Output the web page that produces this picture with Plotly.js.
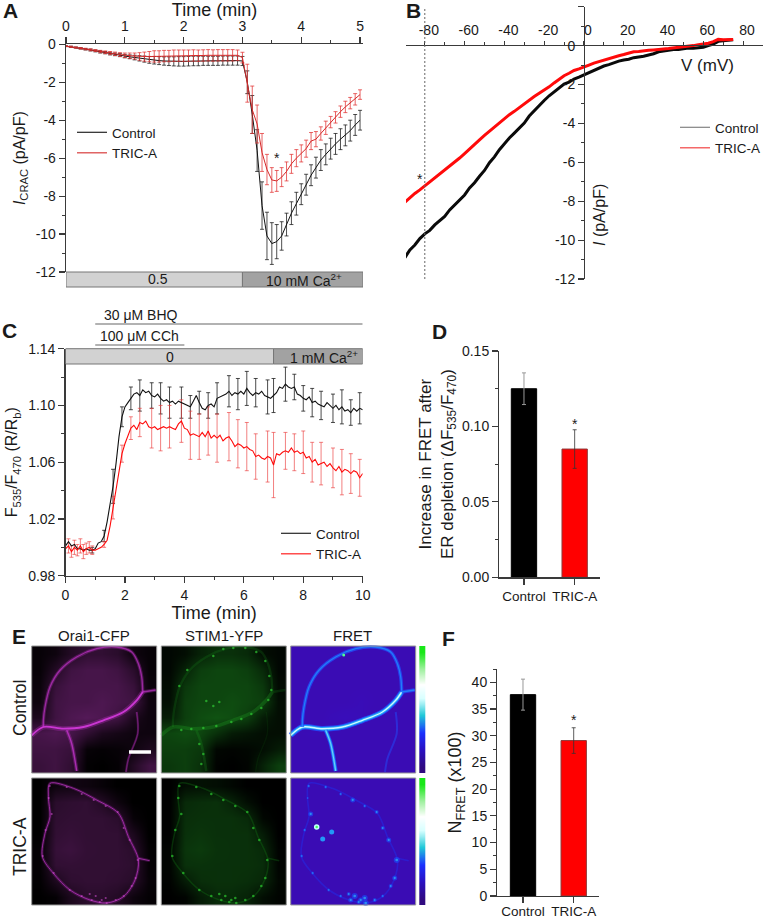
<!DOCTYPE html>
<html><head><meta charset="utf-8">
<script src="https://cdn.plot.ly/plotly-3.0.0.min.js"></script>
<style>html,body{margin:0;padding:0;background:#fff}#chart{width:763px;height:918px}</style>
</head><body><div id="chart"></div>
<script>
// ---------- Panel A data ----------
const aTime=[0,.083,.167,.25,.333,.417,.5,.583,.667,.75,.833,.917,1,1.083,1.167,1.25,1.333,1.417,1.5,1.583,1.667,1.75,1.833,1.917,2,2.083,2.167,2.25,2.333,2.417,2.5,2.583,2.667,2.75,2.833,2.917,3,3.083,3.167,3.25,3.333,3.417,3.5,3.583,3.667,3.75,3.833,3.917,4,4.083,4.167,4.25,4.333,4.417,4.5,4.583,4.667,4.75,4.833,4.917,5];
const aControl=[-.10,-.13,-.17,-.21,-.26,-.30,-.35,-.40,-.44,-.49,-.53,-.57,-.62,-.66,-.70,-.74,-.78,-.82,-.84,-.86,-.88,-.89,-.90,-.90,-.90,-.89,-.88,-.88,-.87,-.87,-.87,-.87,-.86,-.86,-.86,-.86,-.88,-2.0,-3.7,-5.6,-8.5,-10.1,-10.5,-10.4,-10.1,-9.5,-8.9,-8.4,-7.9,-7.4,-6.9,-6.5,-6.1,-5.8,-5.5,-5.25,-5.0,-4.8,-4.55,-4.25,-4.0];
const aControlErr=[.02,.03,.03,.04,.04,.05,.05,.06,.06,.07,.07,.08,.09,.1,.12,.14,.16,.18,.2,.21,.22,.23,.24,.25,.25,.25,.25,.25,.24,.24,.24,.24,.24,.24,.24,.24,.24,.6,1.0,1.1,1.25,1.25,1.1,.9,.75,.6,.6,.6,.55,.55,.55,.55,.55,.55,.55,.55,.55,.55,.55,.55,.52];
const aTric=[-.10,-.13,-.17,-.21,-.25,-.29,-.33,-.38,-.42,-.46,-.50,-.54,-.58,-.60,-.62,-.64,-.65,-.65,-.64,-.64,-.62,-.62,-.60,-.60,-.60,-.60,-.59,-.60,-.59,-.58,-.59,-.58,-.58,-.58,-.58,-.58,-.70,-2.05,-3.45,-4.2,-5.7,-6.6,-7.15,-7.2,-7.0,-6.7,-6.3,-6.0,-5.75,-5.5,-5.1,-5.0,-4.7,-4.4,-4.1,-3.85,-3.55,-3.3,-3.1,-2.9,-2.65];
const aTricErr=[.02,.03,.03,.04,.04,.05,.05,.06,.07,.08,.09,.1,.12,.14,.16,.2,.24,.27,.3,.3,.3,.3,.3,.3,.3,.3,.3,.3,.3,.3,.3,.3,.3,.3,.3,.28,.28,1.0,1.25,1.0,1.0,.8,.65,.55,.5,.5,.5,.45,.45,.45,.45,.4,.35,.35,.3,.3,.3,.3,.3,.3,.25];
const aXTicks=[0,1,2,3,4,5], aXLabels=['0','1','2','3','4','5'];
const aYTicks=[0,-2,-4,-6,-8,-10,-12], aYLabels=['0','-2','-4','-6','-8','-10','-12'];
// ---------- Panel B data ----------
const bVolt=[-90,-87.5,-85,-82.5,-80,-77.5,-75,-72.5,-70,-67.5,-65,-62.5,-60,-57.5,-55,-52.5,-50,-47.5,-45,-42.5,-40,-37.5,-35,-32.5,-30,-27.5,-25,-22.5,-20,-17.5,-15,-12.5,-10,-7.5,-5,-2.5,0,2.5,5,7.5,10,12.5,15,17.5,20,22.5,25,27.5,30,32.5,35,37.5,40,42.5,45,47.5,50,52.5,55,57.5,60,62.5,65,67.5,70,72.5,75];
const bControl=[-10.9,-10.5,-10.25,-9.92,-9.68,-9.5,-9.22,-9.02,-8.78,-8.45,-8.2,-7.98,-7.68,-7.32,-7.05,-6.72,-6.42,-6.02,-5.72,-5.35,-5.02,-4.75,-4.5,-4.22,-3.98,-3.62,-3.35,-3.05,-2.82,-2.58,-2.38,-2.15,-1.98,-1.88,-1.72,-1.62,-1.5,-1.38,-1.25,-1.15,-1.05,-.98,-.88,-.8,-.74,-.7,-.62,-.6,-.55,-.48,-.42,-.32,-.28,-.24,-.2,-.2,-.17,-.12,-.14,-.1,-.08,0,.08,.22,.25,.28,.3];
const bTric=[-8.05,-7.82,-7.6,-7.42,-7.22,-6.98,-6.8,-6.6,-6.4,-6.2,-5.98,-5.78,-5.55,-5.3,-5.08,-4.85,-4.62,-4.4,-4.2,-3.98,-3.76,-3.55,-3.38,-3.18,-3.0,-2.8,-2.62,-2.45,-2.3,-2.12,-1.92,-1.72,-1.55,-1.42,-1.28,-1.2,-1.08,-1,-.9,-.82,-.73,-.66,-.58,-.52,-.46,-.4,-.32,-.3,-.26,-.24,-.22,-.18,-.17,-.15,-.12,-.1,-.08,-.02,0,.05,.08,.12,.2,.32,.3,.32,.32];
const bXTicks=[-80,-60,-40,-20,0,20,40,60,80], bXLabels=['-80','-60','-40','-20','0','20','40','60','80'];
const bYTicks=[2,0,-2,-4,-6,-8,-10,-12], bYLabels=['2','0','-2','-4','-6','-8','-10','-12'];
// ---------- Panel C data ----------
const cTime=[0,.1,.2,.3,.4,.5,.6,.7,.8,.9,1,1.1,1.2,1.3,1.4,1.5,1.6,1.7,1.8,1.9,2,2.1,2.2,2.3,2.4,2.5,2.6,2.7,2.8,2.9,3,3.1,3.2,3.3,3.4,3.5,3.6,3.7,3.8,3.9,4,4.1,4.2,4.3,4.4,4.5,4.6,4.7,4.8,4.9,5,5.1,5.2,5.3,5.4,5.5,5.6,5.7,5.8,5.9,6,6.1,6.2,6.3,6.4,6.5,6.6,6.7,6.8,6.9,7,7.1,7.2,7.3,7.4,7.5,7.6,7.7,7.8,7.9,8,8.1,8.2,8.3,8.4,8.5,8.6,8.7,8.8,8.9,9,9.1,9.2,9.3,9.4,9.5,9.6,9.7,9.8,9.9,10];
const cControl=[1.001,1.004,1.001,1.002,.999,.999,.998,.999,.998,.998,.999,1.003,1.004,1.008,1.018,1.03,1.043,1.059,1.078,1.092,1.099,1.102,1.105,1.108,1.109,1.107,1.111,1.109,1.110,1.107,1.106,1.108,1.105,1.103,1.104,1.102,1.103,1.101,1.103,1.102,1.101,1.100,1.099,1.103,1.107,1.102,1.098,1.097,1.100,1.101,1.099,1.105,1.106,1.107,1.108,1.110,1.107,1.109,1.108,1.110,1.108,1.112,1.109,1.107,1.109,1.108,1.110,1.107,1.106,1.105,1.107,1.109,1.113,1.112,1.115,1.113,1.112,1.113,1.108,1.107,1.105,1.104,1.106,1.102,1.103,1.101,1.100,1.099,1.102,1.100,1.098,1.100,1.097,1.099,1.096,1.097,1.095,1.098,1.096,1.098,1.097];
const cTric=[.999,1.001,.997,1.000,.998,1.001,.997,.999,1.000,.998,.998,.999,1.000,1.002,1.005,1.015,1.028,1.04,1.055,1.066,1.073,1.078,1.084,1.086,1.083,1.088,1.087,1.089,1.085,1.084,1.085,1.083,1.084,1.085,1.084,1.085,1.084,1.083,1.087,1.089,1.084,1.083,1.079,1.080,1.079,1.078,1.081,1.078,1.082,1.077,1.079,1.077,1.079,1.075,1.077,1.078,1.075,1.071,1.073,1.072,1.070,1.071,1.069,1.068,1.064,1.065,1.063,1.062,1.064,1.063,1.058,1.066,1.065,1.067,1.068,1.067,1.070,1.067,1.068,1.066,1.067,1.063,1.064,1.060,1.062,1.058,1.059,1.060,1.057,1.059,1.056,1.054,1.057,1.053,1.055,1.054,1.052,1.054,1.053,1.049,1.052];
const cControlErrT=[.9,1.3,1.6,1.9,2.2,2.5,2.9,3.2,3.5,3.9,4.2,4.5,4.8,5.1,5.5,5.8,6.1,6.4,6.8,7,7.4,7.7,8,8.3,8.6,9,9.3,9.6,9.9];
const cControlErr=[.002,.004,.012,.007,.008,.011,.009,.011,.011,.011,.008,.008,.009,.011,.011,.011,.012,.010,.012,.012,.012,.009,.009,.010,.010,.010,.012,.009,.011];
const cTricErrT=[.1,.2,.3,.4,.5,.6,.7,.8,.9,1.3,1.6,1.9,2.2,2.5,2.9,3.2,3.5,3.9,4.2,4.5,4.8,5.1,5.5,5.8,6.1,6.4,6.8,7,7.4,7.7,8,8.3,8.6,9,9.3,9.6,9.9];
const cTricErr=[.005,.004,.005,.004,.005,.005,.004,.004,.003,.002,.008,.006,.008,.010,.014,.016,.015,.015,.017,.016,.017,.017,.017,.017,.017,.016,.018,.023,.013,.013,.015,.014,.015,.014,.016,.014,.013];
const cXTicks=[0,2,4,6,8,10], cXLabels=['0','2','4','6','8','10'];
const cYTicks=[.98,1.02,1.06,1.10,1.14], cYLabels=['0.98','1.02','1.06','1.10','1.14'];
// ---------- Bars D / F ----------
const groups=['Control','TRIC-A'];
const dValues=[.125,.085], dErr=[.0105,.0128];
const dYTicks=[0,.05,.10,.15], dYLabels=['0.00','0.05','0.10','0.15'];
const fValues=[37.7,29.1], fErr=[2.9,2.4];
const fYTicks=[0,5,10,15,20,25,30,35,40], fYLabels=['0','5','10','15','20','25','30','35','40'];
// ---------- Panel E traced outlines (px inside a micrograph) ----------
const r1BottomX=[0,11.7,31.7,51.7,71.7,91.7,105,111], r1BottomY=[89.3,81,82.7,81,74.3,66,54.3,46];
const r1ArcX=[111,110,106.7,100,85,65,45,28.3,18.3,13.3,11.7,11.7], r1ArcY=[46,31,17.7,6,1,2.7,11,24.3,41,61,74.3,81];
const r1DownX=[35,40,45], r1DownY=[84.3,97.7,125];
const r1RightX=[111,124], r1RightY=[46,44];
const r1LowerX=[105,106,96.7,94.3], r1LowerY=[66,87.7,112.7,126];
const r1SpotX=[52,62,72,84,95,104,108,110,107,100,90,80,70,55,42,30,20,38,42,40,18,26,52,45,58], r1SpotY=[10,3,2,2,6,15,30,44,54,62,68,73,76,80,82,83,84,98,108,118,40,24,60,55,56];
const r2CellX=[18.3,16.7,18.3,13.3,10.7,21.7,38.3,58.3,75,91.7,103.3,106.7,96.7,86.7,65,41.7,18.3], r2CellY=[5.3,18.7,38.7,55.3,78.7,95.3,112,122,125,118.7,102,82,58.7,35.3,22,10.3,5.3];
const r2RightX=[106.7,118], r2RightY=[80.3,82.7];
const r2SpotX=[18,17,20,14,11,22,38,50,60,68,75,84,92,100,104,106,98,92,86,74,62,50,35,64,70,74,58], r2SpotY=[8,20,36,52,78,95,112,118,122,124,125,122,118,108,100,82,62,50,34,28,22,16,9,118,122,120,116];
const r2SpotSize=[3,2,5,3,3,3,3,3,5,4,6,4,3,4,5,6,5,4,4,3,5,3,3,6,5,6,4];
const r2InnerX=[41,32], r2InnerY=[54,61];
const r1Backdrop=[[.05,.1,.25,.35,.35,.3,.1,.05],[.05,.25,.45,.5,.5,.45,.3,.05],[.08,.4,.5,.5,.5,.5,.4,.08],[.1,.45,.5,.5,.55,.5,.45,.1],[.2,.45,.55,.6,.55,.45,.2,.1],[.5,.55,.5,.35,.2,.15,.1,.1],[.45,.45,.4,.05,.03,.05,.1,.2],[.4,.45,.35,.02,0,.03,.25,.45]];
const r2Backdrop=[[0,.1,.12,.1,.05,0,0,0],[0,.3,.33,.35,.25,.1,0,0],[0,.33,.35,.35,.35,.3,.05,0],[0,.35,.38,.35,.35,.35,.2,0],[.03,.38,.42,.36,.35,.35,.3,.02],[.03,.35,.36,.35,.35,.35,.32,.03],[.02,.2,.33,.35,.35,.33,.28,.05],[0,.03,.2,.3,.3,.25,.1,.03]];
const scaleLevels=[[1,1],[.9,.9],[.8,.8],[.7,.7],[.6,.6],[.5,.5],[.4,.4],[.3,.3],[.2,.2],[.1,.1],[0,0]];
const columnTitles=['Orai1-CFP','STIM1-YFP','FRET'], rowTitles=['Control','TRIC-A'];

// ---------- helpers ----------
const W=763,H=918, FONT='"Liberation Sans", Arial, sans-serif', AX='#3a3a3a';
const xd=(a,b)=>[a/W,b/W], yd=(t,b)=>[1-b/H,1-t/H];
const axis=(o,minor)=>Object.assign({showgrid:false,zeroline:false,showline:true,linecolor:AX,linewidth:1.3,ticks:'outside',ticklen:6,tickwidth:1.2,tickcolor:AX,tickfont:{family:FONT,size:14,color:'#1a1a1a'},tickmode:'array',fixedrange:true,
  minor:minor?{tickmode:'linear',tick0:0,dtick:minor,ticks:'outside',ticklen:3,tickwidth:1,tickcolor:AX,showgrid:false}:undefined},o);
const ttl=(text,size,standoff)=>({text,font:{family:FONT,size:size||16,color:'#1a1a1a'},standoff});
const note=(x,y,text,size,extra)=>Object.assign({xref:'paper',yref:'paper',x:x/W,y:1-y/H,text,showarrow:false,xanchor:'center',yanchor:'middle',font:{family:FONT,size:size||14,color:'#1a1a1a'}},extra||{});
const band=(xref,x0,x1,top,bot,fill)=>({type:'rect',xref,yref:'paper',x0,x1,y0:1-bot/H,y1:1-top/H,fillcolor:fill,line:{color:'#777',width:1},layer:'above'});
const hline=(xref,x0,x1,y)=>({type:'line',xref,yref:'paper',x0,x1,y0:1-y/H,y1:1-y/H,line:{color:'#666',width:1.2}});

const BLACK='#111',RED='#d42a2a',PURE='#ff0a0a';
const traces=[];
function err(arr,color,thick,width){return {type:'data',array:arr,visible:true,color,thickness:thick||1,width:width===undefined?2:width};}
// A
traces.push({x:aTime,y:aControl,xaxis:'x',yaxis:'y',mode:'lines',line:{color:BLACK,width:1},error_y:err(aControlErr,'rgba(20,20,20,.75)'),showlegend:false,hoverinfo:'skip',cliponaxis:false});
traces.push({x:aTime,y:aTric,xaxis:'x',yaxis:'y',mode:'lines',line:{color:RED,width:1},error_y:err(aTricErr,'rgba(225,50,50,.75)'),showlegend:false,hoverinfo:'skip',cliponaxis:false});
const legendDummy=(name,color,legend,xa,ya)=>({x:[null],y:[null],xaxis:xa,yaxis:ya,mode:'lines',name,line:{color,width:1.1},legend,showlegend:true});
traces.push(legendDummy('Control',BLACK,'legend','x','y'),legendDummy('TRIC-A',RED,'legend','x','y'));
// B
traces.push({x:bVolt,y:bControl,xaxis:'x2',yaxis:'y2',mode:'lines',line:{color:'#0a0a0a',width:3},showlegend:false,hoverinfo:'skip'});
traces.push({x:bVolt,y:bTric,xaxis:'x2',yaxis:'y2',mode:'lines',line:{color:PURE,width:3},showlegend:false,hoverinfo:'skip'});
traces.push(legendDummy('Control','#777','legend2','x2','y2'),legendDummy('TRIC-A','#f03030','legend2','x2','y2'));
// C
const cY=(s,ts)=>ts.map(t=>s[Math.round(t*10)]);
traces.push({x:cControlErrT,y:cY(cControl,cControlErrT),xaxis:'x3',yaxis:'y3',mode:'none',error_y:err(cControlErr,'rgba(30,30,30,.8)'),showlegend:false,hoverinfo:'skip'});
traces.push({x:cTricErrT,y:cY(cTric,cTricErrT),xaxis:'x3',yaxis:'y3',mode:'none',error_y:err(cTricErr,'rgba(235,60,60,.65)'),showlegend:false,hoverinfo:'skip'});
traces.push({x:cTime,y:cControl,xaxis:'x3',yaxis:'y3',mode:'lines',line:{color:BLACK,width:1.1},showlegend:false,hoverinfo:'skip'});
traces.push({x:cTime,y:cTric,xaxis:'x3',yaxis:'y3',mode:'lines',line:{color:PURE,width:1.1},showlegend:false,hoverinfo:'skip'});
traces.push(legendDummy('Control',BLACK,'legend3','x3','y3'),legendDummy('TRIC-A',PURE,'legend3','x3','y3'));
// D, F
function bars(vals,errs,xa,ya){
  [0,1].forEach(i=>traces.push({type:'bar',x:[groups[i]],y:[vals[i]],width:.5,xaxis:xa,yaxis:ya,showlegend:false,hoverinfo:'skip',
    marker:{color:i?'#ff0000':'#000',line:{color:i?'#8c3a3a':'#000',width:1}},
    error_y:err([errs[i]],i?'#333':'#999',i?.8:1,2)}));
}
bars(dValues,dErr,'x4','y4');
bars(fValues,fErr,'x5','y5');
// E: overlay on page pixel scale
const colX=[31.7,161.3,290.7], rowY=[646,778], IMG=125, IMGH=127;
const OV={xaxis:'x6',yaxis:'y6',hoverinfo:'skip',showlegend:false};
function backdrop(c,r,z,scale){
  const n=z.length,dx=IMG/n,dy=IMGH/n;
  traces.push(Object.assign({type:'heatmap',z,x0:colX[c]+dx/2,dx,y0:rowY[r]+dy/2,dy,zmin:0,zmax:1,zsmooth:'best',colorscale:scale,showscale:false},OV));
}
function stroke(c,r,px,py,color,width,opacity){
  traces.push(Object.assign({x:px.map(v=>v+colX[c]),y:py.map(v=>v+rowY[r]),mode:'lines',line:{color,width,shape:'spline',smoothing:.9},opacity},OV));
}
function spots(c,r,px,py,color,size,opacity){
  traces.push(Object.assign({x:px.map(v=>v+colX[c]),y:py.map(v=>v+rowY[r]),mode:'markers',marker:{color,size,line:{width:0}},opacity},OV));
}
const mag=[[0,'#000'],[1,'#8c2a92']], grn=[[0,'#000'],[1,'#1a8a1e']], fr=[[0,'#3a0cb4'],[1,'#3a0cb4']];
// row 1
backdrop(0,0,r1Backdrop,mag); backdrop(1,0,r1Backdrop,grn); backdrop(2,0,r1Backdrop,[[0,'#3a0cb4'],[.5,'#3a0cb4'],[1,'#3412d4']]);
[[r1BottomX,r1BottomY,1],[r1ArcX,r1ArcY,.6],[r1DownX,r1DownY,.7],[r1RightX,r1RightY,.6],[r1LowerX,r1LowerY,.3]].forEach(([a,b,k])=>{
  stroke(0,0,a,b,'#c030c8',4*k+1,.3); stroke(0,0,a,b,'#d038d8',.6+1.2*k,.9*k+.05);
  stroke(1,0,a,b,'#1fa824',3*k+.5,.28*k);
  stroke(2,0,a,b,'#2050ff',5*k+.5,.85*Math.min(1,k+.25));
  if(k>.65){stroke(2,0,a,b,'#20b8f8',3.4*k,.85); stroke(2,0,a,b,'#e0ffff',1.8*k-.4,k===1?.9:.5);}
  else if(k>.5){stroke(2,0,a,b,'#2098ff',1.3,.7);}
});
spots(1,0,r1SpotX,r1SpotY,'#30c834',2.5,.7);
// row 2
backdrop(0,1,r2Backdrop,mag); backdrop(1,1,r2Backdrop,grn); backdrop(2,1,r1Backdrop.map(q=>q.map(()=>0)),fr);
[[r2CellX,r2CellY],[r2RightX,r2RightY]].forEach(([a,b])=>{
  stroke(0,1,a,b,'#b028b8',3,.25); stroke(0,1,a,b,'#c038c8',1,.7);
  stroke(1,1,a,b,'#148018',1.5,.3);
  stroke(2,1,a,b,'#2030f0',1.6,.45);
});
spots(0,1,r2SpotX,r2SpotY,'#d850d8',2.2,.55);
spots(1,1,r2SpotX,r2SpotY,'#2cc830',2.6,.7);
spots(2,1,r2SpotX,r2SpotY,'#1a50ff',r2SpotSize,.85);
spots(2,1,r2SpotX,r2SpotY,'#30c8f8',r2SpotSize.map(s=>s/2.2),.85);
spots(2,1,r2InnerX,r2InnerY,'#20a8ff',5,.9);
traces.push(Object.assign({x:[colX[2]+26],y:[rowY[1]+49],mode:'markers',marker:{color:'#40ff60',size:4,line:{color:'#c8ffff',width:1.5}}},OV));
// row 1 FRET hot spot, scale bar
traces.push(Object.assign({x:[colX[2]+53],y:[rowY[0]+9],mode:'markers',marker:{color:'#50ff90',size:3}},OV));
traces.push(Object.assign({x:[129,151],y:[752,752],mode:'lines',line:{color:'#fff',width:3.5}},OV));
// colour strips
const stripScale=[[0,'#300a80'],[.15,'#2a10c0'],[.3,'#1a30ff'],[.45,'#20c8d8'],[.6,'#d8ffff'],[.72,'#ffffff'],[.85,'#a0f0a0'],[1,'#18e818']];
[0,1].forEach(r=>traces.push(Object.assign({type:'heatmap',z:scaleLevels,x0:420.8,dx:3,y0:rowY[r]+IMGH/22,dy:IMGH/11,zmin:0,zmax:1,zsmooth:'best',colorscale:stripScale,showscale:false},OV)));

const boxes=[];
colX.forEach(x=>rowY.forEach(y=>boxes.push({type:'rect',xref:'x6',yref:'y6',x0:x,x1:x+IMG,y0:y,y1:y+IMGH,line:{color:'#999',width:1},fillcolor:'rgba(0,0,0,0)',layer:'above'})));

const legendCommon={xanchor:'left',yanchor:'top',bgcolor:'rgba(0,0,0,0)',font:{family:FONT,size:13.5,color:'#1a1a1a'},tracegroupgap:0};
const layout={
  width:W,height:H,margin:{l:0,r:0,t:0,b:0,autoexpand:false},paper_bgcolor:'#fff',plot_bgcolor:'rgba(0,0,0,0)',showlegend:true,barmode:'overlay',font:{family:FONT},
  xaxis:axis({domain:xd(66,363),range:[0,5.05],side:'top',anchor:'y',tickvals:aXTicks,ticktext:aXLabels,title:ttl('Time (min)',18,1)},.5),
  yaxis:axis({domain:yd(44.3,272),range:[-12,0],anchor:'x',tickvals:aYTicks,ticktext:aYLabels,title:ttl('<i>I</i><sub>CRAC</sub> (pA/pF)',16,6)},1),
  xaxis2:axis({domain:xd(406,763),range:[-89.45,90],side:'top',anchor:'free',position:1-45/H,tickvals:bXTicks,ticktext:bXLabels,ticklen:4,ticklabelshift:4},10),
  yaxis2:axis({domain:yd(6.7,279),range:[-12,2],anchor:'free',position:584/W,tickvals:bYTicks,ticktext:bYLabels},1),
  xaxis3:axis({domain:xd(65.5,362.7),range:[0,10],anchor:'y3',tickvals:cXTicks,ticktext:cXLabels,title:ttl('Time (min)',18,0)},1),
  yaxis3:axis({domain:yd(348.7,575.7),range:[.98,1.14],anchor:'x3',tickvals:cYTicks,ticktext:cYLabels,title:ttl('F<sub>535</sub>/F<sub>470</sub> (R/R<sub>b</sub>)',16,6)},.02),
  xaxis4:axis({domain:xd(499.3,600),type:'category',categoryorder:'array',categoryarray:groups,range:[-.487,1.5],anchor:'y4',tickvals:groups,ticktext:groups,tickfont:{family:FONT,size:13.5,color:'#1a1a1a'}}),
  yaxis4:axis({domain:yd(351,577.3),range:[0,.15],anchor:'x4',tickvals:dYTicks,ticktext:dYLabels,title:ttl('Increase in FRET after<br>ER depletion (ΔF<sub>535</sub>/F<sub>470</sub>)',17,4)},.025),
  xaxis5:axis({domain:xd(497.3,598.7),type:'category',categoryorder:'array',categoryarray:groups,range:[-.507,1.493],anchor:'y5',tickvals:groups,ticktext:groups,ticklabelstandoff:-4,tickfont:{family:FONT,size:13.5,color:'#1a1a1a'}}),
  yaxis5:axis({domain:yd(669,896),range:[0,42.5],anchor:'x5',tickvals:fYTicks,ticktext:fYLabels,title:ttl('N<sub>FRET</sub> (x100)',18,5)},2.5),
  xaxis6:{domain:[0,1],range:[0,W],visible:false,fixedrange:true,anchor:'y6'},
  yaxis6:{domain:[0,1],range:[H,0],visible:false,fixedrange:true,anchor:'x6'},
  legend:Object.assign({x:72/W,y:1-117/H},legendCommon),
  legend2:Object.assign({x:675/W,y:1-112/H},legendCommon),
  legend3:Object.assign({x:276/W,y:1-518/H},legendCommon),
  shapes:[
    band('x',0,3,272,287,'#d2d2d2'),band('x',3,5.05,272,287,'#a2a2a2'),
    band('x3',0,7,348.7,364,'#d2d2d2'),band('x3',7,10,348.7,364,'#a2a2a2'),
    hline('x3',1,10,324),hline('x3',1,4,345),
    {type:'line',xref:'x2',yref:'paper',x0:-80,x1:-80,y0:1-279/H,y1:1-8/H,line:{color:'#666',width:1,dash:'2px,2px'}}
  ].concat(boxes),
  annotations:[
    note(10,11,'<b>A</b>',21),note(413,11,'<b>B</b>',21),note(9,330,'<b>C</b>',21),note(440,331,'<b>D</b>',21),note(19,636,'<b>E</b>',21),note(448,638,'<b>F</b>',21),
    note(158,279.5,'0.5',14),note(304,280,'10 mM Ca<sup>2+</sup>',14),
    note(170,357,'0',14),note(324,357,'1 mM Ca<sup>2+</sup>',14),
    note(102,315,'30 μM BHQ',14,{xanchor:'left'}),note(98,336,'100 μM CCh',14,{xanchor:'left'}),
    note(707,65,'V (mV)',17),
    note(600,215,'<i>I</i> (pA/pF)',16,{textangle:-90}),
    note(277,158,'*',14),note(420,179,'*',14),note(575,424,'*',14),note(574,720,'*',14),
    note(443,456,'.',8),
    note(94,635,columnTitles[0],15),note(224,635,columnTitles[1],15),note(352,635,columnTitles[2],15),
    note(20,708,rowTitles[0],17.5,{textangle:-90}),note(20,847,rowTitles[1],17.5,{textangle:-90})
  ]
};
Plotly.newPlot('chart',traces,layout,{displayModeBar:false,staticPlot:true});
</script></body></html>
